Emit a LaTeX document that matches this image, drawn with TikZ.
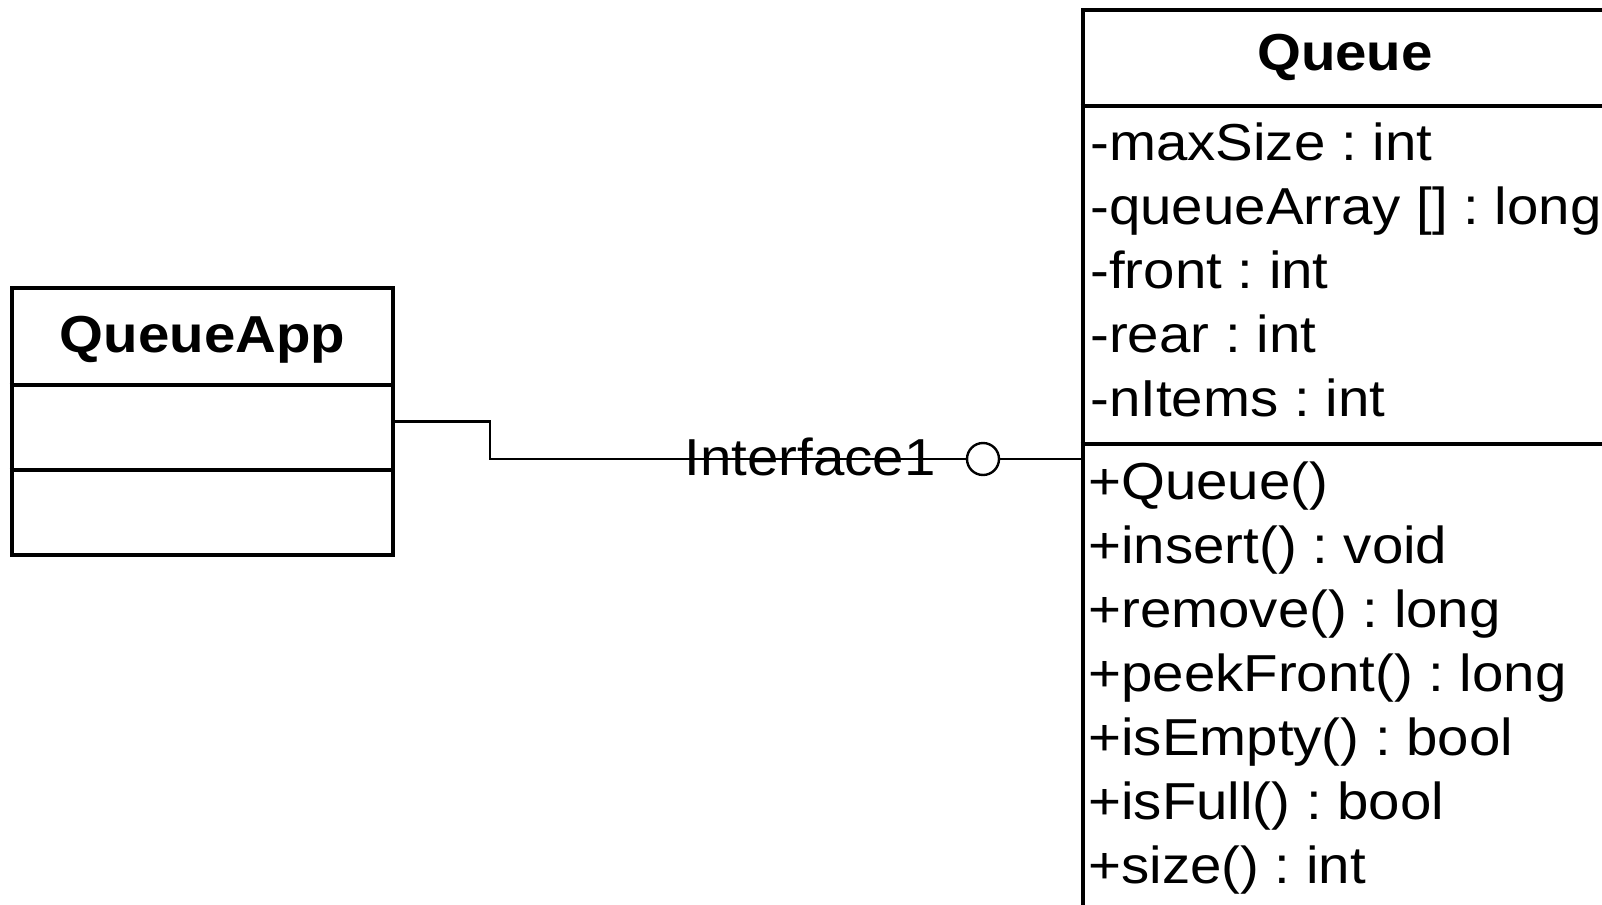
\documentclass[tikz,border=0pt]{standalone}
\usepackage{fontspec}
\setmainfont{Liberation Sans}[FakeStretch=1.085]
\frenchspacing

\begin{document}
\begin{tikzpicture}[x=0.5pt, y=-0.5pt,
        classbox/.style={draw, line width=2.3pt, inner sep=0pt},
        wire/.style={line width=1.2pt},
        title/.style={anchor=base, inner sep=0pt, font=\bfseries\fontsize{26}{32}\selectfont},
        member/.style={anchor=base west, inner sep=0pt, font=\fontsize{26}{32}\selectfont}]
        \useasboundingbox (0,0) rectangle (1602,905);

        % Class on the left
        \node[classbox, minimum width=190.5pt, minimum height=133.5pt] (app) at (202.5,421.5) {};
        \node[title] (apptitle) at (202.5,352) {QueueApp};
        \draw[line width=2.3pt] (app.west |- 0,385) -- (app.east |- 0,385);
        \draw[line width=2.3pt] (app.west |- 0,470) -- (app.east |- 0,470);

        % Class on the right
        \node[classbox, minimum width=318.5pt, minimum height=495pt] (queue) at (1401.5,505) {};
        \node[title] (queuetitle) at (1345,70) {Queue};
        \draw[line width=2.3pt] (queue.west |- 0,106) -- (queue.east |- 0,106);
        \draw[line width=2.3pt] (queue.west |- 0,444) -- (queue.east |- 0,444);

        % Attributes
        \foreach \txt [count=\k from 0] in {-maxSize : int, {-queueArray [] : long}, -front : int, -rear : int, -nItems : int} {
            \node[member] (attr\k) at (1090, 160+64*\k) {\txt};
        }

        % Operations
        \foreach \txt [count=\k from 0] in {+Queue(), +insert() : void, +remove() : long, +peekFront() : long, +isEmpty() : bool, +isFull() : bool, +size() : int} {
            \node[member] (op\k) at (1088, 499+64*\k) {\txt};
        }

        % Interface
        \node[draw, circle, wire, minimum size=16pt, inner sep=0pt] (lolli) at (983,459) {};
        \draw[wire] (app.east) -- ++(94.5,0) |- (lolli.west);
        \draw[wire] (lolli.east) -- (lolli.east -| queue.west);
        \node[anchor=base, inner sep=0pt, font=\fontsize{26}{32}\selectfont] (iface) at (810,475) {Interface1};
    \end{tikzpicture}
\end{document}
